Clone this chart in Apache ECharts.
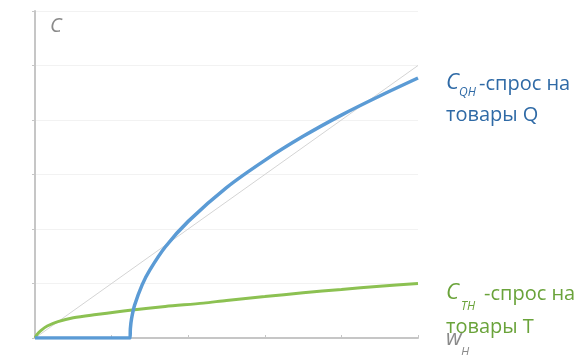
<!DOCTYPE html>
<html><head><meta charset="utf-8">
<script src="https://cdn.jsdelivr.net/npm/echarts@6/dist/echarts.min.js"></script>
<style>html,body{margin:0;padding:0;background:#fff}#c{width:586px;height:355px}</style>
</head><body><div id="c"></div>
<script>
// Demand for goods Q (blue): zero until ~1.24, then rising
const qDemand = [[0,0],[1.24,0],[1.245,0.17],[1.26,0.35],[1.3,0.6],[1.4,0.98],[1.5,1.25],[1.7,1.67],[2,2.14],[2.5,2.76],[3,3.26],[3.5,3.7],[4,4.09],[4.5,4.44],[5,4.77]];
// Demand for goods T (green)
const tDemand = [[0,0],[0.03,0.07],[0.08,0.14],[0.16,0.22],[0.3,0.3],[0.5,0.37],[0.8,0.43],[1.24,0.51],[1.7,0.58],[2.2,0.64],[2.5,0.69],[3,0.76],[3.5,0.83],[4,0.89],[4.5,0.95],[5,1.0]];
// 45-degree reference line
const diagonal = [[0,0],[5,5]];
const xTicks = [0,1,2,3,4,5];
const yTicks = [0,1,2,3,4,5,6];

const chart = echarts.init(document.getElementById('c'), null, {renderer:'canvas'});
const FONT = '"Open Sans", sans-serif';
function t(x,y,text,size,color,italic){
  return {type:'text', x:x, y:y, style:{text:text, font:(italic?'italic ':'')+size+'px '+FONT, fill:color, textVerticalAlign:'top', verticalAlign:'top'}};
}
const blue='#2f6aa6', green='#6aa33a', gray='#8a8a8a';
chart.setOption({
  animation:false,
  grid:{left:35,right:168,top:11,bottom:17,containLabel:false},
  xAxis:{type:'value',min:xTicks[0],max:xTicks[xTicks.length-1],interval:1,
    axisLine:{show:true,lineStyle:{color:'#c6c6c6',width:2}},
    axisTick:{show:true,inside:true,length:3,lineStyle:{color:'#c6c6c6'}},
    axisLabel:{show:false},splitLine:{show:false}},
  yAxis:{type:'value',min:yTicks[0],max:yTicks[yTicks.length-1],interval:1,
    axisLine:{show:true,lineStyle:{color:'#c6c6c6',width:2}},
    axisTick:{show:true,inside:false,length:3,lineStyle:{color:'#c6c6c6'}},
    axisLabel:{show:false},splitLine:{show:true,lineStyle:{color:'#f2f2f2',width:1}}},
  series:[
    {type:'line',data:diagonal,symbol:'none',lineStyle:{color:'#d4d4d4',width:1},z:1},
    {type:'line',data:tDemand,symbol:'none',smooth:0.3,lineStyle:{color:'#8cc152',width:3},z:2},
    {type:'line',data:qDemand,symbol:'none',smooth:0.3,lineStyle:{color:'#5b9bd5',width:3.5},z:3}
  ],
  graphic:[
    t(50,16,'C',20,gray,true),
    t(446,72,'C',22,blue,true),
    t(459,87,'QH',12,blue,true),
    t(479,74,'-спрос на',20,blue,false),
    t(446,105,'товары Q',20,blue,false),
    t(446,282,'C',22,green,true),
    t(461,301,'TH',12,green,true),
    t(484,284,'-спрос на',20,green,false),
    t(446,317,'товары T',20,green,false),
    t(446,328,'w',22,gray,true),
    t(461,347,'H',12,gray,true)
  ]
});
</script></body></html>
